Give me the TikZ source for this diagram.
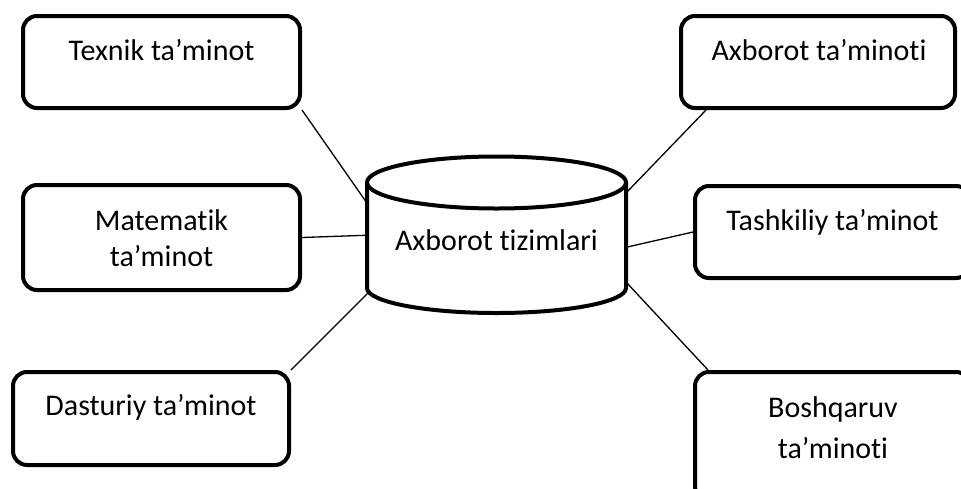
\documentclass[tikz,border=0pt]{standalone}
\usepackage{fontspec}
\setmainfont{Carlito}[Ligatures={NoCommon}]
\usetikzlibrary{calc}
\tikzset{
  boxnode/.style={draw=black, line width=4pt, rounded corners=14pt, inner sep=0pt, fill=white},
  txt/.style={font=\fontsize{30}{36}\selectfont, inner sep=0pt, anchor=base, align=center},
  conn/.style={draw=black, line width=1.3pt},
  cylline/.style={draw=black, line width=4pt}
}
\begin{document}
\begin{tikzpicture}[x=1pt,y=1pt]
\useasboundingbox (0,0) rectangle (961,-488);
\clip (0,0) rectangle (961,-488);
\fill[white] (0,0) rectangle (961,-488);
% boxes
\node[boxnode, minimum width=277pt, minimum height=92pt] (tex) at (161.5,-62) {};
\node[boxnode, minimum width=277pt, minimum height=105pt] (mat) at (161.5,-237.5) {};
\node[boxnode, minimum width=276pt, minimum height=93pt] (dast) at (151,-418.5) {};
\node[boxnode, minimum width=274pt, minimum height=92pt] (axb) at (818,-62) {};
\node[boxnode, minimum width=275pt, minimum height=92pt] (tash) at (832.5,-232) {};
\node[boxnode, minimum width=275pt, minimum height=128pt] (bosh) at (832.5,-436) {};
% cylinder
\draw[cylline] (367,-182.5) -- (367,-288) arc[start angle=180, end angle=360, x radius=129.5, y radius=25] -- (626,-182.5);
\draw[cylline] (496.5,-182.5) ellipse[x radius=129.5, y radius=26];
\node[minimum width=259pt, minimum height=105.5pt, inner sep=0pt] (cyl) at (496.5,-235.25) {};
% texts
\node[txt] (texT) at (161.5,-60) {Texnik ta’minot};
\node[txt] (matT) at (161.5,-266) {Matematik\\ta’minot};
\node[txt] (dastT) at (151,-415) {Dasturiy ta’minot};
\node[txt] (axbT) at (819,-60) {Axborot ta’minoti};
\node[txt] (tashT) at (832.5,-230) {Tashkiliy ta’minot};
\node[txt] (boshT) at (833,-458) {Boshqaruv\\[5pt]ta’minoti};
\node[txt] (cylT) at (496.5,-250) {Axborot tizimlari};
% connectors
\draw[conn] (tex.south east) -- ($(cyl.north west)+(0,-20.5)$);
\draw[conn] (mat.east) -- (cyl.west);
\draw[conn] (dast.north east) -- ($(cyl.south west)+(1,-5)$);
\draw[conn] ($(axb.south west)+(27,0)$) -- ($(cyl.north east)+(0,-10.5)$);
\draw[conn] (tash.west) -- ($(cyl.east)+(0,-12)$);
\draw[conn] ($(bosh.north west)+(15,0)$) -- ($(cyl.south east)+(0,6)$);
\end{tikzpicture}
\end{document}
